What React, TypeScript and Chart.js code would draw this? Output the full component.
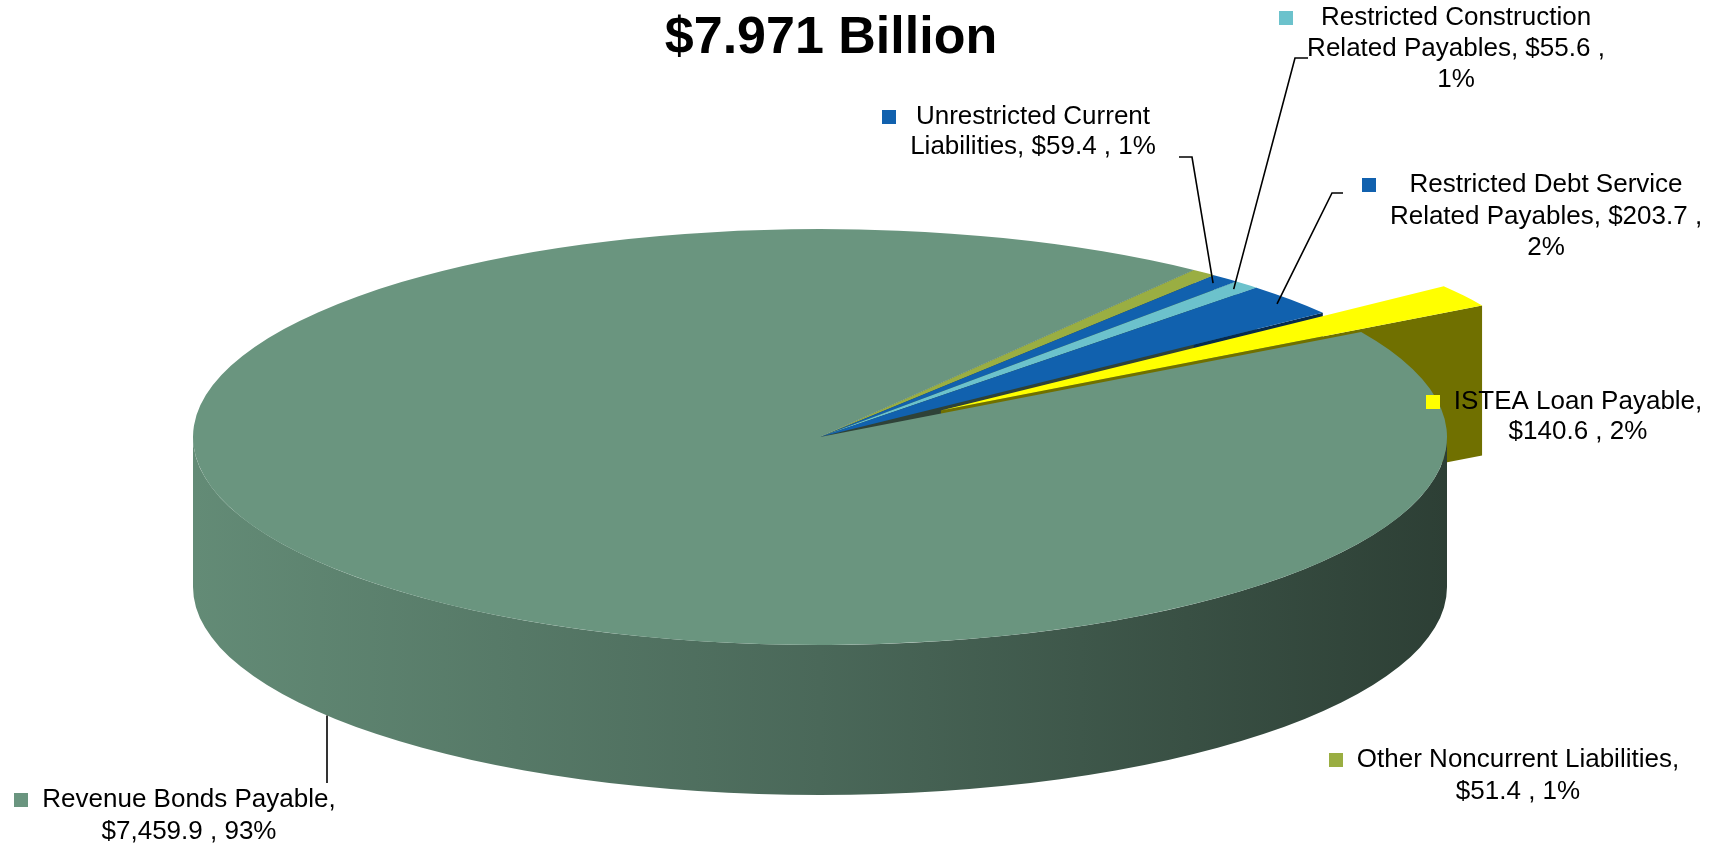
import React, { useEffect, useRef } from 'react';
import { Chart, registerables } from 'chart.js';

Chart.register(...registerables);

// ---------------- data ----------------
const categories = [
  'Other Noncurrent Liabilities',
  'Unrestricted Current Liabilities',
  'Restricted Construction Related Payables',
  'Restricted Debt Service Related Payables',
  'ISTEA Loan Payable',
  'Revenue Bonds Payable',
];
const values = [51.4, 59.4, 55.6, 203.7, 140.6, 7459.9];
const percentLabels = ['1%', '1%', '1%', '2%', '2%', '93%'];
const chartTitle = '$7.971 Billion';

// ---------------- style / layout ----------------
const sliceColors = ['#9aae42', '#1161ae', '#6cc2cc', '#1161ae', '#ffff00', '#6a957f'];
const W = 1723;
const H = 845;
const RADIUS = 627;
const SQUASH = 208 / 627;
const DEPTH = 150;
const ROTATION = 36.6;
const EXPLODE_INDEX = 4;
const EXPLODE_DIST = 145;
const FONT = '"Liberation Sans", Arial, Helvetica, sans-serif';

type LabelLayout = {
  cx: number;
  y: number;
  lh: number;
  maxW: number;
  elbow?: [number, number][];
  anchor?: 'top' | 'wall';
};
const labelLayout: LabelLayout[] = [
  { cx: 1518, y: 760, lh: 32, maxW: 340 },
  { cx: 1033, y: 117, lh: 30, maxW: 262, elbow: [[1179, 157], [1192, 157]], anchor: 'top' },
  { cx: 1456, y: 18, lh: 31, maxW: 318, elbow: [[1308, 58], [1295, 58]], anchor: 'top' },
  { cx: 1546, y: 185, lh: 31.5, maxW: 330, elbow: [[1343, 193], [1332, 193]], anchor: 'top' },
  { cx: 1578, y: 402, lh: 30, maxW: 265 },
  { cx: 189, y: 800, lh: 32, maxW: 305, elbow: [[327, 783]], anchor: 'wall' },
];

function shade(hex: string, f: number) {
  const n = parseInt(hex.slice(1), 16);
  const r = (n >> 16) & 255, g = (n >> 8) & 255, b = n & 255;
  return `rgb(${Math.round(r * f)},${Math.round(g * f)},${Math.round(b * f)})`;
}

function sliceInfo(chart: any) {
  const arcs = chart.getDatasetMeta(0).data as any[];
  return arcs.map((a: any, i: number) => {
    const p = a.getProps(['x', 'y', 'startAngle', 'endAngle', 'outerRadius'], true);
    const mid = (p.startAngle + p.endAngle) / 2;
    const d = i === EXPLODE_INDEX ? EXPLODE_DIST : 0;
    return {
      ...p,
      i,
      mid,
      ox: Math.cos(mid) * d,
      oy: Math.sin(mid) * d * SQUASH,
      color: sliceColors[i],
      arc: a,
    };
  });
}

const pie3dPlugin = {
  id: 'pie3d',
  beforeDatasetsDraw(chart: any) {
    const ctx: CanvasRenderingContext2D = chart.ctx;
    const info = sliceInfo(chart);

    const drawFace = (s: any, ang: number) => {
      const ax = s.x + s.ox, ay = s.y + s.oy;
      const rx = ax + s.outerRadius * Math.cos(ang);
      const ry = ay + s.outerRadius * SQUASH * Math.sin(ang);
      ctx.beginPath();
      ctx.moveTo(ax, ay);
      ctx.lineTo(rx, ry);
      ctx.lineTo(rx, ry + DEPTH);
      ctx.lineTo(ax, ay + DEPTH);
      ctx.closePath();
      ctx.fillStyle = shade(s.color, 0.44);
      ctx.fill();
    };
    const drawFaces = (s: any) => {
      if (Math.cos(s.startAngle) < 0) drawFace(s, s.startAngle);
      if (Math.cos(s.endAngle) > 0) drawFace(s, s.endAngle);
    };
    const drawWalls = (s: any) => {
      const cx = s.x + s.ox, cy = s.y + s.oy, r = s.outerRadius;
      for (let k = -1; k <= 1; k++) {
        const lo = Math.max(s.startAngle, 2 * Math.PI * k);
        const hi = Math.min(s.endAngle, 2 * Math.PI * k + Math.PI);
        if (hi <= lo) continue;
        const g = ctx.createLinearGradient(cx - r, 0, cx + r, 0);
        g.addColorStop(0, shade(s.color, 0.93));
        g.addColorStop(0.5, shade(s.color, 0.7));
        g.addColorStop(1, shade(s.color, 0.42));
        ctx.beginPath();
        ctx.ellipse(cx, cy, r, r * SQUASH, 0, lo, hi, false);
        ctx.ellipse(cx, cy + DEPTH, r, r * SQUASH, 0, hi, lo, true);
        ctx.closePath();
        ctx.fillStyle = g;
        ctx.fill();
      }
    };
    const drawTop = (s: any) => {
      ctx.save();
      ctx.translate(s.x + s.ox, s.y + s.oy);
      ctx.scale(1, SQUASH);
      ctx.translate(-s.x, -s.y);
      s.arc.draw(ctx);
      ctx.restore();
    };

    const main = info.filter((s: any) => s.i !== EXPLODE_INDEX);
    const exploded = info.filter((s: any) => s.i === EXPLODE_INDEX);

    main.forEach(drawFaces);
    exploded.forEach(drawFaces);
    exploded.forEach(drawWalls);
    main.forEach(drawWalls);
    main.forEach(drawTop);
    exploded.forEach(drawTop);
    return false;
  },
};

function wrap(ctx: CanvasRenderingContext2D, text: string, maxW: number) {
  const words = text.split(' ');
  const lines: string[] = [];
  let cur = '';
  for (const w of words) {
    const t = cur ? cur + ' ' + w : w;
    if (cur && ctx.measureText(t).width > maxW) {
      lines.push(cur);
      cur = w;
    } else {
      cur = t;
    }
  }
  if (cur) lines.push(cur);
  return lines;
}

const labelsPlugin = {
  id: 'pieLabels',
  afterDraw(chart: any) {
    const ctx: CanvasRenderingContext2D = chart.ctx;
    const info = sliceInfo(chart);
    ctx.save();
    ctx.fillStyle = '#000';
    ctx.textAlign = 'center';
    ctx.textBaseline = 'alphabetic';
    ctx.font = `bold 52px ${FONT}`;
    ctx.fillText(chartTitle, 831, 53);

    ctx.font = `26px ${FONT}`;
    ctx.textBaseline = 'middle';
    categories.forEach((name, i) => {
      const L = labelLayout[i];
      const val = values[i].toLocaleString('en-US', { minimumFractionDigits: 1, maximumFractionDigits: 1 });
      const text = `${name}, $${val} , ${percentLabels[i]}`;
      const lines = wrap(ctx, text, L.maxW);
      const maxW = Math.max(...lines.map((l) => ctx.measureText(l).width));
      ctx.fillStyle = '#000';
      ctx.textAlign = 'center';
      lines.forEach((l, j) => ctx.fillText(l, L.cx, L.y + j * L.lh));
      const left = L.cx - maxW / 2;
      ctx.fillStyle = sliceColors[i];
      ctx.fillRect(Math.round(left - 28), Math.round(L.y - 7), 14, 14);

      if (L.elbow && L.anchor) {
        const s = info[i];
        const pts = L.elbow.slice();
        if (L.anchor === 'top') {
          pts.push([
            s.x + s.ox + 0.97 * s.outerRadius * Math.cos(s.mid),
            s.y + s.oy + 0.97 * s.outerRadius * SQUASH * Math.sin(s.mid),
          ]);
        } else {
          const x = pts[pts.length - 1][0];
          const dx = (x - s.x) / s.outerRadius;
          const y = s.y + DEPTH + s.outerRadius * SQUASH * Math.sqrt(Math.max(0, 1 - dx * dx));
          pts.push([x, y]);
        }
        ctx.beginPath();
        ctx.moveTo(pts[0][0], pts[0][1]);
        for (let k = 1; k < pts.length; k++) ctx.lineTo(pts[k][0], pts[k][1]);
        ctx.strokeStyle = '#000';
        ctx.lineWidth = 1.6;
        ctx.stroke();
      }
    });
    ctx.restore();
  },
};

export default function App() {
  const ref = useRef<HTMLCanvasElement>(null);
  useEffect(() => {
    const canvas = ref.current!;
    const chart = new Chart(canvas, {
      type: 'pie',
      data: {
        labels: categories,
        datasets: [{ data: values, backgroundColor: sliceColors, borderWidth: 0 }],
      },
      options: {
        responsive: false,
        animation: false,
        devicePixelRatio: 1,
        events: [],
        rotation: ROTATION,
        radius: RADIUS,
        layout: { padding: { left: 0, right: 83, top: 29, bottom: 0 } },
        plugins: {
          legend: { display: false },
          tooltip: { enabled: false },
          title: { display: false },
        },
      } as any,
      plugins: [pie3dPlugin, labelsPlugin],
    });
    return () => chart.destroy();
  }, []);
  return (
    <div style={{ position: 'fixed', left: 0, top: 0, width: W, height: H, background: '#fff' }}>
      <canvas ref={ref} width={W} height={H} style={{ display: 'block', width: W, height: H }} />
    </div>
  );
}
